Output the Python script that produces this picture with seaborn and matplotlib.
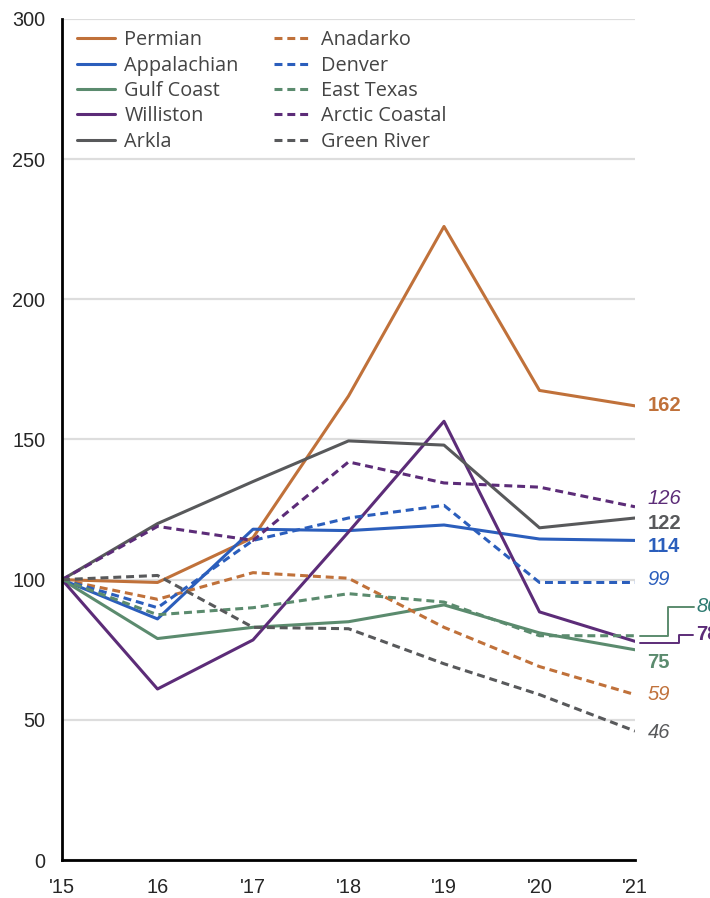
import matplotlib
matplotlib.use("Agg")
import matplotlib.pyplot as plt
import seaborn as sns
import pandas as pd

sns.set_style("white")
plt.rcParams['font.family'] = ['Liberation Sans', 'DejaVu Sans']

# ---------- data ----------
years = ["'15", "16", "'17", "'18", "'19", "'20", "'21"]

permian = [100, 99, 115, 165.5, 226, 167.5, 162]
appalachian = [100, 86, 118, 117.5, 119.5, 114.5, 114]
gulf_coast = [100, 79, 83, 85, 91, 81, 75]
williston = [100, 61, 78.5, 117, 156.5, 88.5, 78]
arkla = [100, 120, 135, 149.5, 148, 118.5, 122]

anadarko = [100, 93, 102.5, 100.5, 83, 69, 59]
denver = [100, 90, 114, 122, 126.5, 99, 99]
east_texas = [100, 87.5, 90, 95, 92, 80, 80]
arctic_coastal = [100, 119, 114, 142, 134.5, 133, 126]
green_river = [100, 101.5, 83, 82.5, 70, 59, 46]

names = ["Permian", "Appalachian", "Gulf Coast", "Williston", "Arkla",
         "Anadarko", "Denver", "East Texas", "Arctic Coastal", "Green River"]
series = [permian, appalachian, gulf_coast, williston, arkla,
          anadarko, denver, east_texas, arctic_coastal, green_river]
colors = ["#C0713A", "#2B5EBC", "#5B8B6E", "#5C2C78", "#58595B",
          "#C0713A", "#2B5EBC", "#5B8B6E", "#5C2C78", "#58595B"]
dashed = [False] * 5 + [True] * 5

end_labels = ["162", "114", "75", "78", "122", "59", "99", "80", "126", "46"]
label_colors = ["#C0713A", "#2B5EBC", "#5B8B6E", "#5C2C78", "#58595B",
                "#C0713A", "#2B5EBC", "#2E7B72", "#5C2C78", "#58595B"]
label_y = [162, 112, 70.5, 80.3, 120, 59.2, 100, 90.3, 129, 45.4]

# ---------- plot ----------
fig, ax = plt.subplots(figsize=(7.1, 8.98), dpi=100)
fig.subplots_adjust(left=62 / 710, right=635 / 710, top=1 - 19 / 898, bottom=1 - 860 / 898)

xs = list(range(len(years)))
for name, vals, c, d in zip(names, series, colors, dashed):
    df = pd.DataFrame({"x": xs, "y": vals})
    sns.lineplot(data=df, x="x", y="y", ax=ax, color=c, linewidth=2.2,
                 label=name, linestyle=(0, (2.6, 1.6)) if d else "-")

ax.set_xlim(0, 6)
ax.set_ylim(0, 300)
ax.set_yticks(range(0, 301, 50))
ax.set_xticks(xs)
ax.set_xticklabels(years)
ax.set_xlabel("")
ax.set_ylabel("")
ax.grid(axis="y", color="#DDDDDD", linewidth=1.6)
ax.set_axisbelow(True)
sns.despine(ax=ax)
for s in ["left", "bottom"]:
    ax.spines[s].set_linewidth(2.0)
    ax.spines[s].set_color("black")
ax.tick_params(axis="y", length=10, width=2, color="black", labelsize=14.3, pad=2)
ax.tick_params(axis="x", length=0, labelsize=14.3, pad=13)

# end labels
for i, (lab, c, ly) in enumerate(zip(end_labels, label_colors, label_y)):
    if lab in ("80", "78"):
        continue
    ax.annotate(lab, xy=(6, ly), xytext=(9, 0), textcoords="offset points",
                va="center", ha="left", color=c, fontsize=14.5,
                fontweight="bold" if not dashed[i] else "normal",
                fontstyle="italic" if dashed[i] else "normal",
                annotation_clip=False)

# leader lines for the crowded labels (East Texas, Williston)
et_end = east_texas[-1]
wi_end = williston[-1]
ax.plot([6.05, 6.35, 6.35, 6.62], [et_end, et_end, 90.3, 90.3],
        color="#5B8B6E", linewidth=1.4, clip_on=False)
ax.plot([6.05, 6.46, 6.46, 6.61], [wi_end - 0.5, wi_end - 0.5, 80.3, 80.3],
        color="#5C2C78", linewidth=1.4, clip_on=False)
ax.text(6.64, 90.3, "80", color="#2E7B72", fontsize=14.5, fontstyle="italic",
        va="center", ha="left", clip_on=False)
ax.text(6.64, 80.3, "78", color="#5C2C78", fontsize=14.5, fontweight="bold",
        va="center", ha="left", clip_on=False)

# legend
handles, labels_ = ax.get_legend_handles_labels()
leg = ax.legend(handles, labels_, ncol=2, frameon=False, loc="upper left",
                bbox_to_anchor=(0.012, 0.996), borderaxespad=0, handlelength=1.9,
                handletextpad=0.5, columnspacing=1.75, labelspacing=0.27,
                prop={"family": ["Open Sans", "DejaVu Sans"], "size": 14.3})
for t in leg.get_texts():
    t.set_color("#444444")

fig.savefig("out.png", dpi=100)
